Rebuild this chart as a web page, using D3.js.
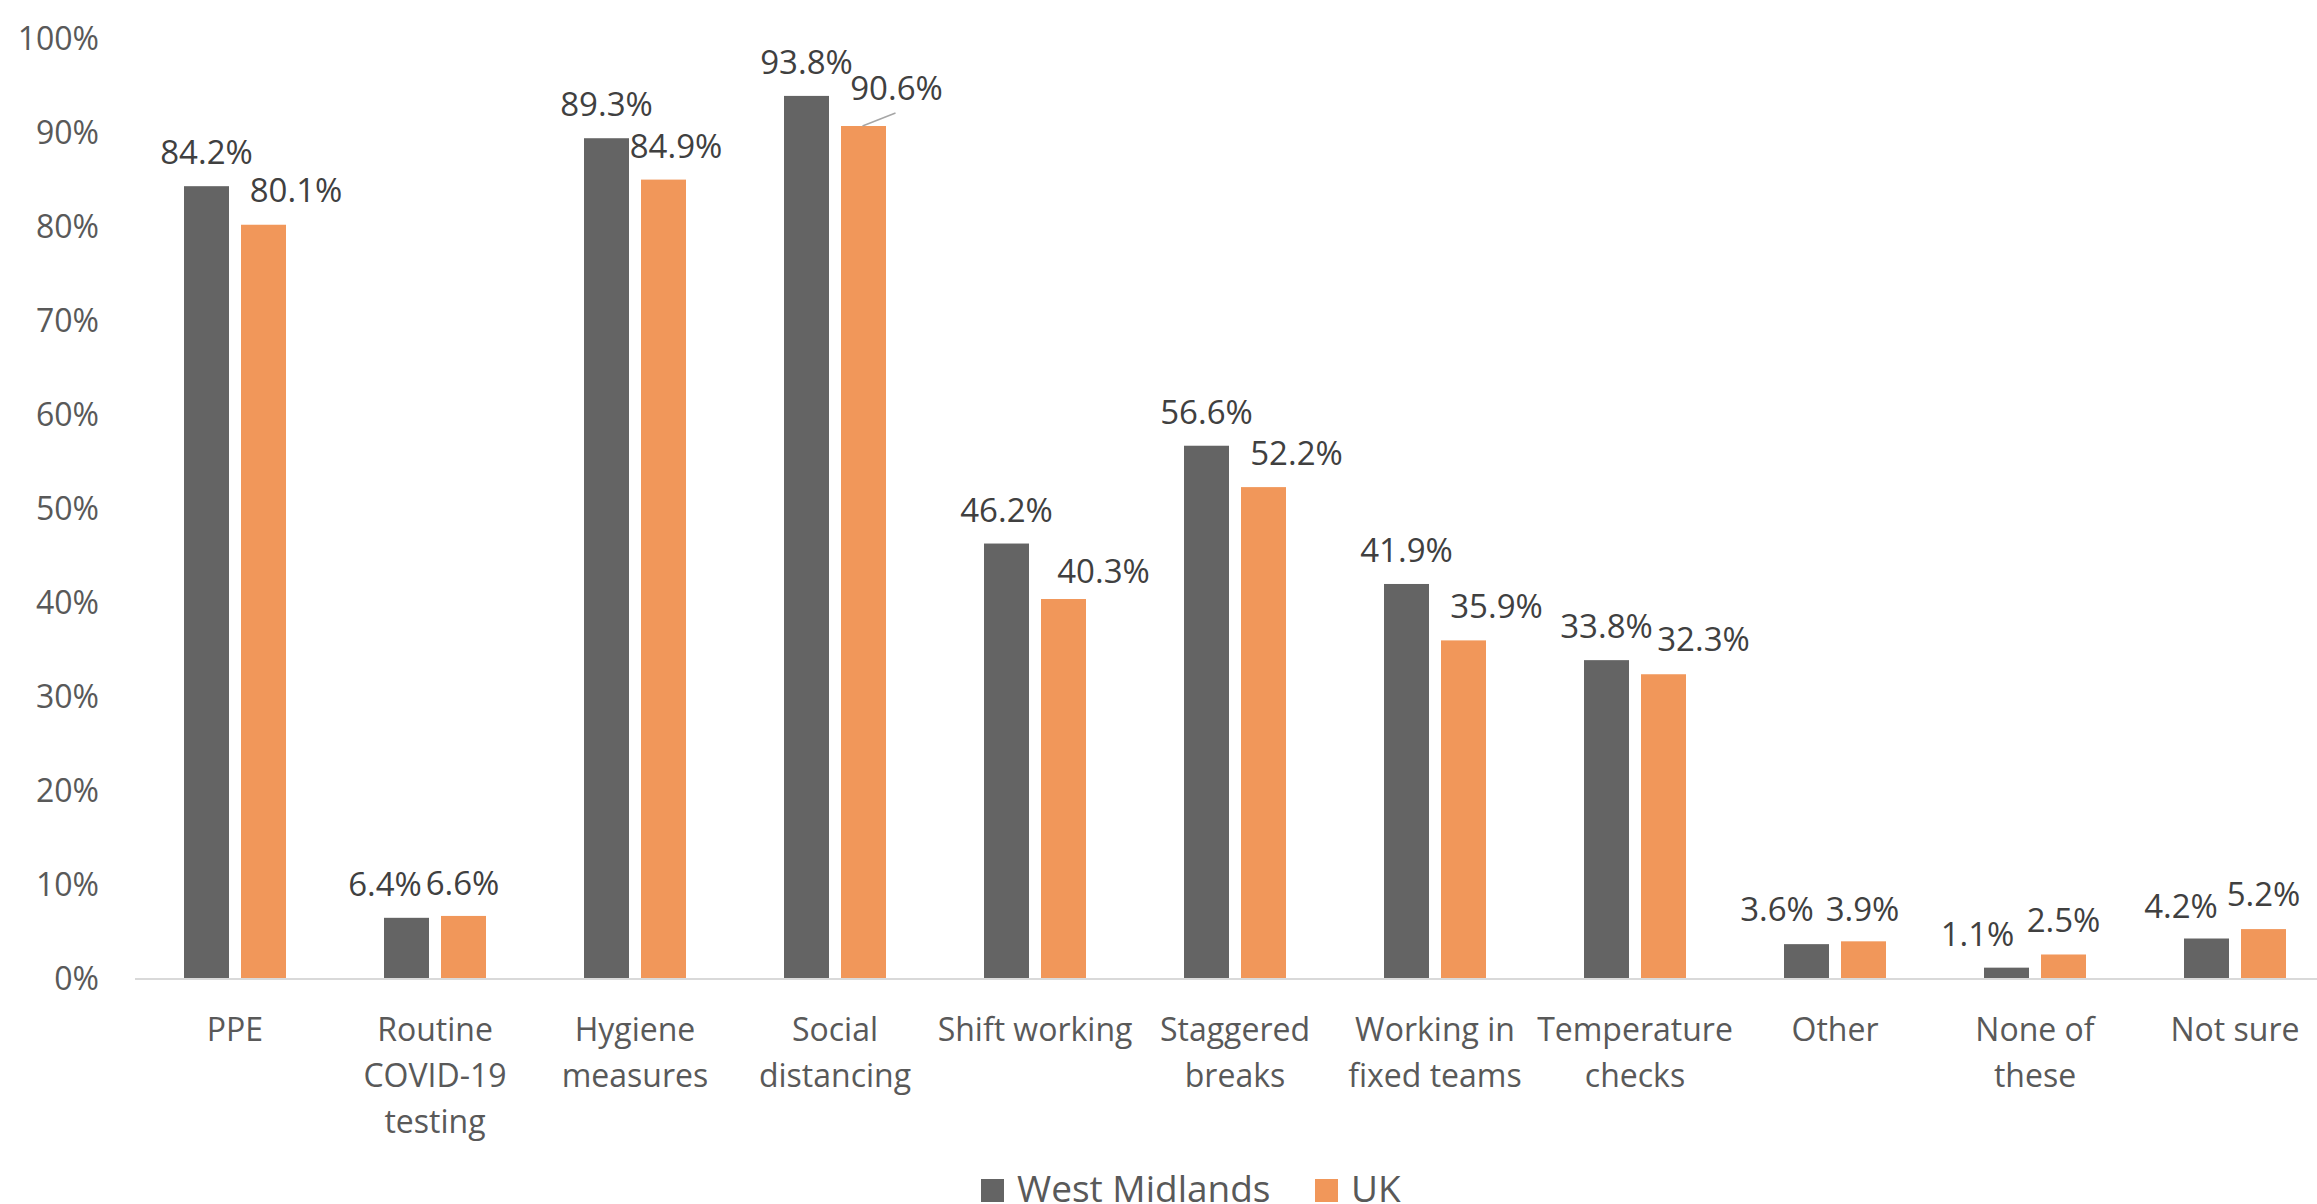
<!DOCTYPE html>
<html>
<head>
<meta charset="utf-8">
<script src="https://cdn.jsdelivr.net/npm/d3@7"></script>
<style>
  html, body { margin: 0; padding: 0; background: #ffffff; }
  svg { display: block; }
  text { font-family: "Open Sans", "Noto Sans", sans-serif; }
</style>
</head>
<body>
<svg id="chart" width="2317" height="1204"></svg>
<script>
// ---- data ----
const categories = [
  ["PPE"],
  ["Routine", "COVID-19", "testing"],
  ["Hygiene", "measures"],
  ["Social", "distancing"],
  ["Shift working"],
  ["Staggered", "breaks"],
  ["Working in", "fixed teams"],
  ["Temperature", "checks"],
  ["Other"],
  ["None of", "these"],
  ["Not sure"]
];
const seriesNames = ["West Midlands", "UK"];
const westMidlands = [84.2, 6.4, 89.3, 93.8, 46.2, 56.6, 41.9, 33.8, 3.6, 1.1, 4.2];
const uk = [80.1, 6.6, 84.9, 90.6, 40.3, 52.2, 35.9, 32.3, 3.9, 2.5, 5.2];
const yTicks = [0, 10, 20, 30, 40, 50, 60, 70, 80, 90, 100];

// label nudges (pixels) imitating the original label placement
const wmLabelDx = [0, -21.5, 0, 0, 0, 0, 0, 0, -29.5, -29, -25.5];
const wmLabelDy = [0, 0, 0, 0, 0, 0, 0, 0, -1, 0, 1];
const ukLabelDx = [32.5, -1, 12.5, 33, 40, 33, 33, 40, -1, 0, 0];
const ukLabelDy = [-1, 1, 0, -4, 5.5, 0, 0, -1, 2, 0, -1];

// ---- layout ----
const svg = d3.select("#chart");
const colors = ["#646464", "#F1975A"];
const catKeys = categories.map(c => c.join(" "));
const x0 = d3.scaleBand().domain(catKeys).range([135, 135 + 200 * catKeys.length]).padding(0);
const x1 = d3.scaleBand().domain(seriesNames).range([49, 151]).paddingInner(12 / 57).paddingOuter(0);
const y = d3.scaleLinear().domain([0, 100]).range([978, 37.6]);

// y axis labels
const yAxis = d3.axisLeft(y).tickValues(yTicks).tickFormat(d => d + "%").tickSize(0).tickPadding(0);
const yg = svg.append("g").attr("transform", "translate(99,0)").call(yAxis);
yg.select(".domain").remove();
yg.selectAll("text")
  .attr("fill", "#595959")
  .style("font-size", "32px")
  .style("font-family", "'Open Sans', sans-serif")
  .attr("dy", "0.36em");

// bars
const data = catKeys.map((k, i) => ({ key: k, lines: categories[i], vals: [westMidlands[i], uk[i]], i }));
const groups = svg.append("g").selectAll("g").data(data).join("g")
  .attr("transform", d => `translate(${x0(d.key)},0)`);

groups.selectAll("rect").data(d => d.vals.map((v, s) => ({ v, s, name: seriesNames[s] })))
  .join("rect")
  .attr("x", d => x1(d.name))
  .attr("width", x1.bandwidth())
  .attr("y", d => y(d.v))
  .attr("height", d => y(0) - y(d.v))
  .attr("fill", d => colors[d.s]);

// x axis line
svg.append("line")
  .attr("x1", 135).attr("x2", 2317)
  .attr("y1", y(0) + 1).attr("y2", y(0) + 1)
  .attr("stroke", "#d9d9d9").attr("stroke-width", 2);

// leader line for Social distancing UK label
const si = 3;
svg.append("line")
  .attr("x1", x0(catKeys[si]) + x1("UK") + x1.bandwidth() / 2 - 1)
  .attr("y1", y(uk[si]))
  .attr("x2", x0(catKeys[si]) + x1("UK") + x1.bandwidth() / 2 + 32)
  .attr("y2", y(uk[si]) - 13)
  .attr("stroke", "#a6a6a6").attr("stroke-width", 1.5);

// data labels
groups.each(function(d) {
  const g = d3.select(this);
  d.vals.forEach((v, s) => {
    const dx = s === 0 ? wmLabelDx[d.i] : ukLabelDx[d.i];
    const dy = s === 0 ? wmLabelDy[d.i] : ukLabelDy[d.i];
    g.append("text")
      .attr("x", x1(seriesNames[s]) + x1.bandwidth() / 2 + dx)
      .attr("y", y(v) - 22 + dy)
      .attr("text-anchor", "middle")
      .attr("fill", "#404040")
      .style("font-size", "33px")
      .text(v.toFixed(1) + "%");
  });
});

// category labels
groups.each(function(d) {
  const t = d3.select(this).append("text")
    .attr("text-anchor", "middle")
    .attr("fill", "#595959")
    .style("font-size", "32px");
  d.lines.forEach((ln, j) => {
    t.append("tspan")
      .attr("x", 100)
      .attr("y", 1041 + j * 46)
      .text(ln);
  });
});

// legend
const legend = svg.append("g");
const legendX = [981, 1315];
seriesNames.forEach((n, s) => {
  legend.append("rect")
    .attr("x", legendX[s]).attr("y", 1179)
    .attr("width", 23).attr("height", 23)
    .attr("fill", colors[s]);
  legend.append("text")
    .attr("x", legendX[s] + 36).attr("y", 1202)
    .attr("fill", "#595959")
    .style("font-size", "37px")
    .text(n);
});
</script>
</body>
</html>
